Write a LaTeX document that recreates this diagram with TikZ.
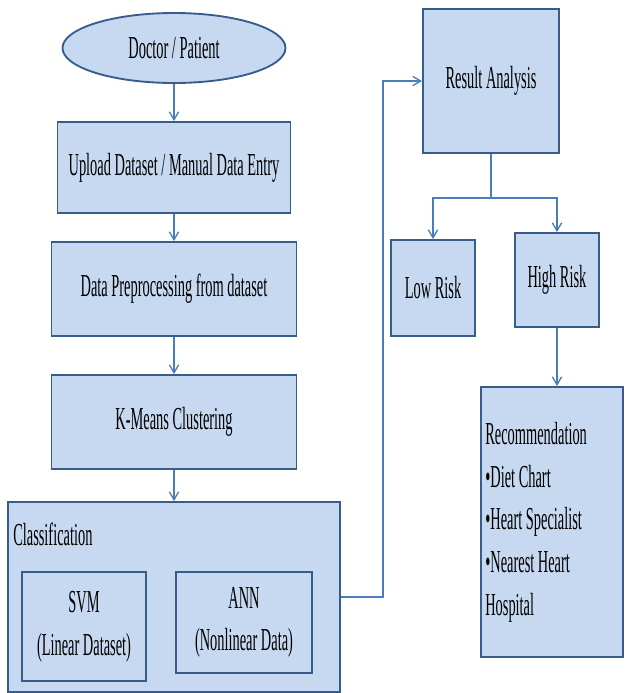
\documentclass[tikz,border=0pt]{standalone}
\usepackage{fontspec}
\newfontfamily\figfont[FakeStretch=0.45]{Liberation Serif}
\usetikzlibrary{shapes.geometric,arrows.meta}
\definecolor{boxfill}{RGB}{198,217,240}
\definecolor{boxline}{RGB}{56,93,138}
\definecolor{flowline}{RGB}{74,126,187}
\tikzset{
  box/.style={draw=boxline,line width=1.4pt,fill=boxfill,inner sep=2pt,align=center,
    font=\figfont\fontsize{24}{32}\selectfont},
  term/.style={box,ellipse},
  flow/.style={draw=flowline,line width=1pt,-{Straight Barb[length=6pt,width=7pt]}},
  link/.style={draw=flowline,line width=1pt}
}
\begin{document}
\begin{tikzpicture}[x=0.75pt,y=0.75pt,yscale=-1,xscale=1]
\useasboundingbox (0,0) rectangle (628,693);

%Shape: Ellipse
\node[term,minimum width=167.25pt,minimum height=52.5pt] (user) at (174,48) {Doctor / Patient};
%Shape: Rectangle
\node[box,minimum width=174.75pt,minimum height=68.25pt] (upload) at (174,167.5) {Upload Dataset / Manual Data Entry};
%Shape: Rectangle
\node[box,minimum width=183.75pt,minimum height=70.5pt] (preproc) at (174,289) {Data Preprocessing from dataset};
%Shape: Rectangle
\node[box,minimum width=183.75pt,minimum height=70.5pt] (kmeans) at (174,422) {K-Means Clustering};
%Shape: Rectangle (classification block)
\node[box,minimum width=249pt,minimum height=142.5pt] (classif) at (174,597) {};
\node[box,minimum width=93pt,minimum height=81.75pt] (svm) at (84,626.5) {SVM\\(Linear Dataset)};
\node[box,minimum width=102pt,minimum height=75.75pt] (ann) at (244,622.5) {ANN\\(Nonlinear Data)};

%Shape: Rectangle
\node[box,minimum width=102pt,minimum height=108pt] (result) at (491,81) {Result Analysis};
\node[box,minimum width=63pt,minimum height=72pt] (low) at (433,288) {Low Risk};
\node[box,minimum width=63pt,minimum height=70.5pt] (high) at (557,280) {High Risk};
\node[box,minimum width=106.5pt,minimum height=202.5pt,text width=100pt,align=flush left] (rec) at (552,522)
  {Recommendation\\\textbullet Diet Chart\\\textbullet Heart Specialist\\\textbullet Nearest Heart\\Hospital};

% Text Node
\node[anchor=base west,inner sep=0pt,font=\figfont\fontsize{24}{32}\selectfont] (classlabel) at (13,545) {Classification};

%Straight Lines
\draw[flow] (user) -- (upload);
\draw[flow] (upload) -- (preproc);
\draw[flow] (preproc) -- (kmeans);
\draw[flow] (kmeans) -- (classif);
\draw[flow] (classif.east) -- ++(42,0) |- (result.west);
\draw[link] (result.south) -- ++(0,44) coordinate (split);
\draw[flow] (split) -| (low.north);
\draw[flow] (split) -| (high.north);
\draw[flow] (high.south) -- (high.south |- rec.north);

\end{tikzpicture}
\end{document}
